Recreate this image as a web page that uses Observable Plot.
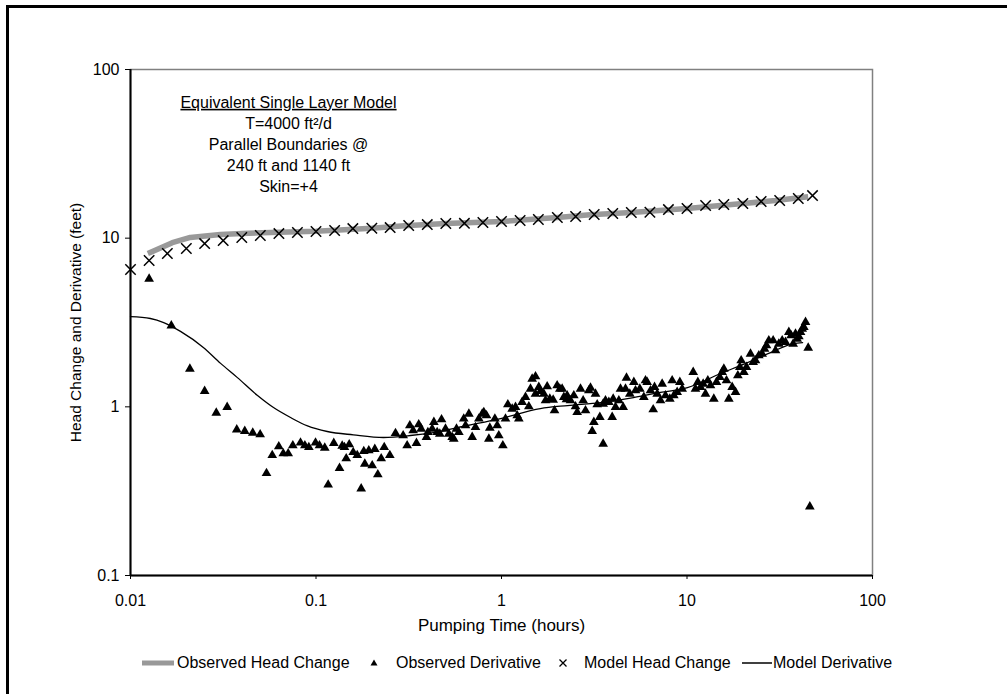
<!DOCTYPE html>
<html>
<head>
<meta charset="utf-8">
<script src="https://cdn.jsdelivr.net/npm/d3@7"></script>
<script src="https://cdn.jsdelivr.net/npm/@observablehq/plot@0.6"></script>
<style>
html,body{margin:0;padding:0;background:#fff;overflow:hidden;}
#wrap{position:relative;width:1007px;height:694px;overflow:hidden;font-family:"Liberation Sans",Arial,sans-serif;color:#000;}
#frame{position:absolute;left:6px;top:5px;width:1200px;height:900px;border:3px solid #000;pointer-events:none;}
#chart{position:absolute;left:0;top:0;}
#legend{position:absolute;left:0;top:652px;width:1007px;height:22px;font-size:16px;}
.item{position:absolute;top:0;height:22px;display:flex;align-items:center;white-space:nowrap;}
.item svg{display:block;}
</style>
</head>
<body>
<div id="wrap"><div id="chart"></div><div id="legend"></div><div id="frame"></div></div>
<script>
// ---- tick values and labels ----
const xTicks = [0.01, 0.1, 1, 10, 100];
const xTickLabels = ["0.01", "0.1", "1", "10", "100"];
const yTicks = [0.1, 1, 10, 100];
const yTickLabels = ["0.1", "1", "10", "100"];

// ---- texts ----
const xTitle = "Pumping Time (hours)";
const yTitle = "Head Change and Derivative (feet)";
const annotation = ["Equivalent Single Layer Model", "T=4000 ft²/d", "Parallel Boundaries @", "240 ft and 1140 ft", "Skin=+4"];
const seriesNames = ["Observed Head Change", "Observed Derivative", "Model Head Change", "Model Derivative"];

// ---- Observed Head Change (grey line) ----
const obsHeadTime = [0.0124, 0.0168, 0.021, 0.0305, 0.04, 0.063, 0.1, 0.2, 0.3, 0.5, 1, 2, 3, 5, 10, 20, 30, 45];
const obsHeadValue = [8.1, 9.4, 10.1, 10.5, 10.65, 10.85, 11.0, 11.45, 11.85, 12.2, 12.55, 13.25, 13.75, 14.2, 15.0, 16.05, 16.7, 17.6];

// ---- Model Head Change (x markers) ----
const modelHeadTime = [0.01, 0.0126, 0.0158, 0.02, 0.0251, 0.0316, 0.0398, 0.0501, 0.0631, 0.0794,
  0.1, 0.126, 0.158, 0.2, 0.251, 0.316, 0.398, 0.501, 0.631, 0.794,
  1, 1.26, 1.58, 2, 2.51, 3.16, 3.98, 5.01, 6.31, 7.94,
  10, 12.6, 15.8, 20, 25.1, 31.6, 39.8, 47.5];
const modelHeadValue = [6.52, 7.37, 8.11, 8.68, 9.29, 9.68, 10.09, 10.37, 10.65, 10.8,
  10.95, 11.1, 11.4, 11.45, 11.56, 11.88, 12.04, 12.21, 12.25, 12.38,
  12.55, 12.72, 12.9, 13.26, 13.44, 13.81, 14.0, 14.19, 14.25, 14.78,
  14.99, 15.62, 15.83, 16.05, 16.49, 16.72, 17.18, 17.89];

// ---- Model Derivative (thin black line) ----
const modelDerivTime = [0.01, 0.0128, 0.0151, 0.0186, 0.0247, 0.0306, 0.0377, 0.0484, 0.059, 0.0729,
  0.09, 0.115, 0.159, 0.231, 0.323, 0.43, 0.656, 0.988, 1.62, 2.27, 3.42, 5.15, 6.6, 10.06, 15.2, 21.2, 28.2, 37.5, 42.0];
const modelDerivValue = [3.43, 3.34, 3.16, 2.8, 2.25, 1.81, 1.49, 1.167, 0.99, 0.864,
  0.77, 0.714, 0.682, 0.658, 0.676, 0.704, 0.775, 0.852, 0.977, 1.018, 1.06, 1.135, 1.199, 1.301, 1.576, 1.831, 2.098, 2.373, 2.405];

// ---- Observed Derivative (triangles): [time, value] ----
const observedDerivative = [
  [0.0126,5.74],[0.0166,3.03],[0.0209,1.68],[0.0251,1.24],[0.029,0.921],[0.0332,0.995],[0.0374,0.733],[0.0413,0.717],
  [0.0456,0.701],[0.05,0.685],[0.0541,0.404],[0.0581,0.516],[0.063,0.582],[0.0666,0.529],[0.0708,0.529],[0.075,0.59],
  [0.0825,0.612],[0.0871,0.59],[0.0915,0.576],[0.0994,0.612],[0.1044,0.59],[0.1115,0.571],[0.1163,0.345],[0.1247,0.609],
  [0.1339,0.433],[0.1384,0.587],[0.1424,0.576],[0.151,0.598],[0.1455,0.494],[0.1587,0.538],[0.1668,0.516],[0.1752,0.327],
  [0.181,0.545],[0.1833,0.459],[0.1926,0.551],[0.2009,0.449],[0.2075,0.561],[0.2154,0.397],[0.2246,0.494],[0.2332,0.576],
  [0.25,0.516],[0.2683,0.697],
  [0.295,0.676],[0.31,0.59],[0.3205,0.775],[0.334,0.724],[0.348,0.609],[0.358,0.785],[0.369,0.74],[0.394,0.661],
  [0.401,0.707],[0.423,0.74],[0.432,0.811],[0.45,0.707],[0.465,0.691],[0.475,0.841],[0.499,0.74],[0.52,0.691],
  [0.542,0.661],[0.553,0.646],[0.572,0.74],[0.589,0.707],[0.626,0.849],[0.64,0.775],[0.667,0.908],[0.695,0.661],
  [0.724,0.757],[0.755,0.849],[0.787,0.908],[0.803,0.929],[0.83,0.888],[0.855,0.646],[0.865,0.75],[0.921,0.849],
  [0.948,0.775],[0.967,0.676],[1.017,0.59],[1.051,0.849],[1.082,1.032],[1.142,0.972],[1.19,0.995],[1.215,0.888],
  [1.24,0.849],[1.292,1.065],[1.347,1.141],[1.404,1.004],[1.433,1.278],[1.463,1.465],[1.525,1.512],[1.525,1.194],
  [1.589,1.307],[1.623,1.238],[1.691,1.194],[1.727,1.09],[1.763,1.319],[1.822,1.115],[1.899,1.1],[1.931,0.951],
  [1.995,1.338],[2.063,1.278],[2.123,1.278],[2.168,1.141],[2.24,1.105],[2.259,1.167],[2.355,1.09],[2.454,1.167],
  [2.506,1.004],[2.558,0.929],[2.667,1.278],[2.756,1.09],[2.837,0.951],[2.957,1.249],[3.019,1.296],[3.082,0.717],
  [3.146,0.811],[3.212,1.194],[3.28,1.032],[3.389,0.868],[3.532,0.603],[3.532,1.041],[3.636,1.09],[3.79,1.065],
  [3.951,0.868],[4.0,1.115],[4.118,0.995],[4.292,1.09],[4.381,1.278],
  [4.528,0.995],[4.719,1.485],[4.661,1.278],[4.918,1.194],[5.17,1.4],[5.278,1.249],[5.568,1.278],[5.852,1.141],
  [5.974,1.432],[6.1,1.4],[6.359,1.249],[6.573,0.964],[6.683,1.307],[6.908,1.194],[7.195,1.09],[7.346,1.368],
  [7.657,1.167],[8.08,1.115],[8.318,1.432],[8.492,1.167],[8.851,1.221],[9.15,1.4],[9.419,1.278],[10.8,1.604],
  [11.11,1.278],[11.44,1.4],[11.83,1.307],[12.22,1.368],[12.58,1.194],[12.95,1.432],[13.39,1.338],[13.95,1.115],
  [14.42,1.4],[15.03,1.498],[15.47,1.604],[15.8,1.68],[16.33,1.432],[16.81,1.115],[17.52,1.307],[18.26,1.221],
  [18.8,1.533],[19.27,1.718],[19.59,1.882],[20.25,1.604],[20.93,1.718],[21.99,2.061],[22.73,1.839],[23.4,1.882],
  [24.39,2.014],[25.42,2.061],[26.17,2.207],[26.83,2.309],[27.61,2.472],[29.14,2.472],[30.0,2.157],[31.26,2.362],
  [32.6,2.472],[33.96,2.416],[35.4,2.77],[36.43,2.647],[37.35,2.362],[38.45,2.708],[39.25,2.529],[40.08,2.611],
  [40.92,2.77],[41.78,2.899],[42.66,2.966],[43.55,3.176],[45.02,2.237],[45.94,0.256]
];

// ---- tables built from the arrays ----
const obsHead = obsHeadTime.map((t, i) => ({t, v: obsHeadValue[i]}));
const modelHead = modelHeadTime.map((t, i) => ({t, v: modelHeadValue[i]}));
const modelDeriv = modelDerivTime.map((t, i) => ({t, v: modelDerivValue[i]}));
const obsDeriv = observedDerivative.map(([t, v]) => ({t, v}));

const FONT = "'Liberation Sans', Arial, sans-serif";

const chart = Plot.plot({
  width: 1007,
  height: 650,
  marginLeft: 130,
  marginRight: 135,
  marginTop: 69,
  marginBottom: 75,
  style: {background: "transparent", fontFamily: FONT, fontSize: "16px", color: "#000", overflow: "visible"},
  x: {type: "log", domain: [0.01, 100], axis: null},
  y: {type: "log", domain: [0.1, 100], axis: null},
  marks: [
    Plot.frame({stroke: "#808080", strokeWidth: 1.5}),
    Plot.ruleX([xTicks[0]], {stroke: "#000", strokeWidth: 2}),
    Plot.ruleY([yTicks[0]], {stroke: "#000", strokeWidth: 2}),
    Plot.axisX(xTicks, {anchor: "bottom", tickSize: 4, tickPadding: 15, stroke: "#000", fill: "#000",
      tickFormat: d => xTickLabels[xTicks.indexOf(d)], label: null, fontSize: 16}),
    Plot.axisY(yTicks, {anchor: "left", tickSize: 5, tickPadding: 6, stroke: "#000", fill: "#000",
      tickFormat: d => yTickLabels[yTicks.indexOf(d)], label: null, fontSize: 16}),
    Plot.line(obsHead, {x: "t", y: "v", stroke: "#999999", strokeWidth: 5.5, strokeLinejoin: "round", strokeLinecap: "butt"}),
    Plot.line(modelDeriv, {x: "t", y: "v", stroke: "#000", strokeWidth: 1.3, curve: "monotone-x"}),
    Plot.dot(obsDeriv, {x: "t", y: "v", symbol: "triangle", fill: "#000", r: 3.6}),
    Plot.dot(modelHead, {x: "t", y: "v", symbol: "times", stroke: "#000", strokeWidth: 1.5, r: 4.8}),
    Plot.text([annotation.join("\n")], {frameAnchor: "top-left", dx: 158, dy: 23.4, lineAnchor: "top",
      textAnchor: "middle", lineHeight: 1.3125, fontSize: 16, fill: "#000"}),
    Plot.text([xTitle], {frameAnchor: "bottom", dy: 55, fontSize: 17, fill: "#000", textAnchor: "middle"}),
    Plot.text([yTitle], {frameAnchor: "left", dx: -54, rotate: -90, fontSize: 15.5, fill: "#000", textAnchor: "middle"})
  ]
});
document.getElementById("chart").appendChild(chart);

// underline the first annotation line
d3.select(chart).selectAll("tspan")
  .filter(function() { return this.textContent === annotation[0]; })
  .style("text-decoration", "underline");

// ---- legend (HTML, below the SVG) ----
const legend = document.getElementById("legend");
const swatches = [
  {left: 142, gap: 3, svg: '<svg width="32" height="22"><line x1="0" y1="11" x2="32" y2="11" stroke="#999999" stroke-width="5"/></svg>'},
  {left: 370, gap: 18, svg: '<svg width="8" height="22"><path d="M4,7.5L7.5,13.5L0.5,13.5Z" fill="#000"/></svg>'},
  {left: 558, gap: 16, svg: '<svg width="10" height="22"><path d="M1.5,7.5L8.5,14.5M8.5,7.5L1.5,14.5" stroke="#000" stroke-width="1.3"/></svg>'},
  {left: 742, gap: 1, svg: '<svg width="30" height="22"><line x1="0" y1="11" x2="30" y2="11" stroke="#000" stroke-width="1.5"/></svg>'}
];
swatches.forEach((s, i) => {
  const item = document.createElement("div");
  item.className = "item";
  item.style.left = s.left + "px";
  item.innerHTML = s.svg + '<span style="margin-left:' + s.gap + 'px">' + seriesNames[i] + '</span>';
  legend.appendChild(item);
});
</script>
</body>
</html>
